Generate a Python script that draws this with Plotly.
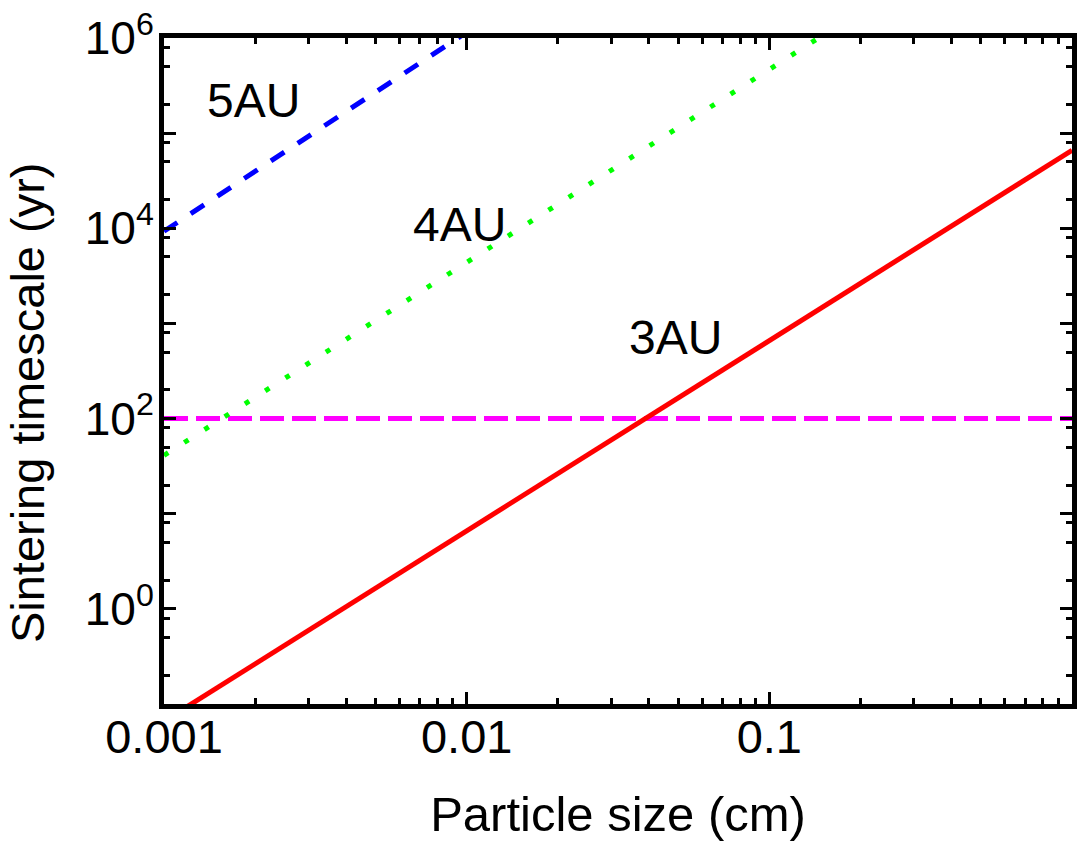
import math
import plotly.graph_objects as go

# ---- data ----
size_cm = [0.001, 0.01, 0.1, 1.0]
t_3au = [0.066, 6.6, 660.0, 66000.0]
t_4au = [41.0, 4400.0, 470000.0, 5.0e7]
size_5au = [0.001, 0.01]
t_5au = [9300.0, 1.15e6]
size_thr = [0.001, 1.0]
t_thr = [100.0, 100.0]

x_major = [0.001, 0.01, 0.1, 1.0]
x_major_text = ["0.001", "0.01", "0.1", "1"]
y_major = [1e-1, 1e0, 1e1, 1e2, 1e3, 1e4, 1e5, 1e6]
y_major_text = ["", "10<sup>0</sup>", "", "10<sup>2</sup>", "", "10<sup>4</sup>", "", "10<sup>6</sup>"]
x_minor = [m * d for d in [0.001, 0.01, 0.1] for m in range(2, 10)]
y_minor = [m * d for d in [0.1, 1, 10, 100, 1000, 1e4, 1e5] for m in (2, 5, 8)]

labels = ["5AU", "4AU", "3AU"]
label_x = [0.00198, 0.0095, 0.0488]
label_y = [2.23e5, 1.107e4, 718.0]

FONT = "Liberation Sans"

fig = go.Figure()
fig.add_trace(go.Scatter(x=size_thr, y=t_thr, mode="lines",
                         line=dict(color="#ff00ff", width=5, dash="24px,8px"), showlegend=False))
fig.add_trace(go.Scatter(x=size_cm, y=t_3au, mode="lines",
                         line=dict(color="#ff0000", width=5), showlegend=False))
fig.add_trace(go.Scatter(x=size_cm, y=t_4au, mode="lines",
                         line=dict(color="#00ff00", width=5, dash="5px,19px"), showlegend=False))
fig.add_trace(go.Scatter(x=size_5au, y=t_5au, mode="lines",
                         line=dict(color="#0000ff", width=5, dash="16px,16px"), showlegend=False))

for t, x, y in zip(labels, label_x, label_y):
    fig.add_annotation(x=math.log10(x), y=math.log10(y), xref="x", yref="y", text=t,
                       showarrow=False, font=dict(family=FONT, size=48, color="black"))

# y-axis title (placed as rotated text to match the reference position)
fig.add_annotation(x=-0.150, y=0.453, xref="paper", yref="paper", text="Sintering timescale (yr)",
                   textangle=-90, showarrow=False, xanchor="center", yanchor="middle",
                   font=dict(family=FONT, size=47, color="black"))

fig.update_xaxes(type="log", range=[-3, 0], showgrid=False, zeroline=False,
                 showline=True, linecolor="black", linewidth=5, mirror="allticks",
                 ticks="inside", ticklen=12, tickwidth=3, tickcolor="black",
                 tickmode="array", tickvals=x_major, ticktext=x_major_text,
                 tickfont=dict(family=FONT, size=47, color="black"),
                 ticklabelstandoff=-12,
                 minor=dict(ticks="inside", ticklen=6, tickwidth=3, tickcolor="black",
                            tickmode="array", tickvals=x_minor, showgrid=False),
                 title=dict(text="Particle size (cm)", font=dict(family=FONT, size=49, color="black"),
                            standoff=36),
                 automargin=False)
fig.update_yaxes(type="log", range=[-1, 6], showgrid=False, zeroline=False,
                 showline=True, linecolor="black", linewidth=5, mirror="allticks",
                 ticks="inside", ticklen=12, tickwidth=3, tickcolor="black",
                 tickmode="array", tickvals=y_major, ticktext=y_major_text,
                 tickfont=dict(family=FONT, size=46, color="black"),
                 ticklabelstandoff=-4,
                 minor=dict(ticks="inside", ticklen=6, tickwidth=3, tickcolor="black",
                            tickmode="array", tickvals=y_minor, showgrid=False),
                 automargin=False)

fig.update_layout(width=1077, height=847, margin=dict(l=164, r=5, t=38, b=143),
                  plot_bgcolor="white", paper_bgcolor="white", showlegend=False)

fig.write_html("out.html", config={"displayModeBar": False},
               post_script="document.body.style.margin='0';")
